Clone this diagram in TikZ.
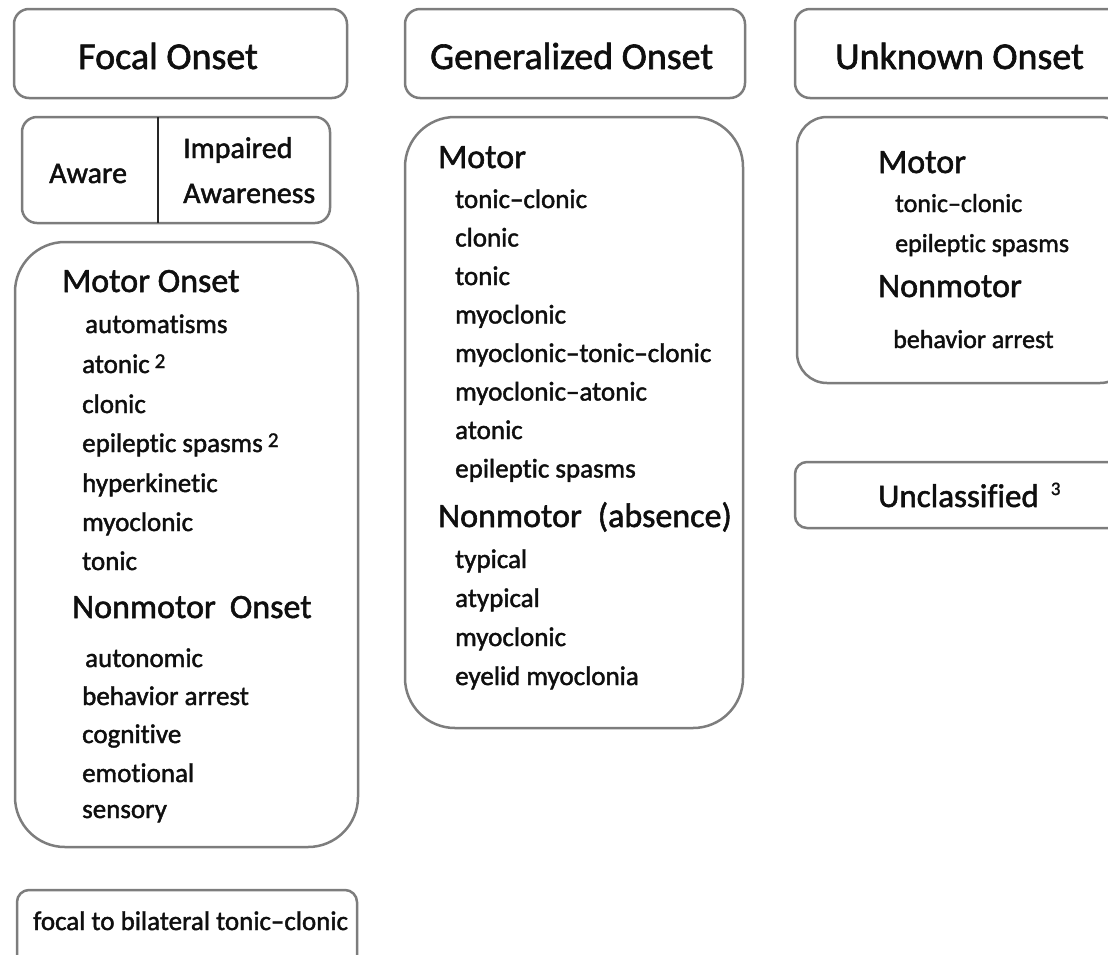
\documentclass[tikz,border=0pt]{standalone}
\usepackage{fontspec}
\setmainfont{Carlito}[Ligatures={TeX,NoCommon}, FakeBold=1.6]
\definecolor{boxgray}{RGB}{125,125,125}
\definecolor{txt}{RGB}{15,15,15}
\tikzset{
  box/.style={draw=boxgray, line width=2.5pt},
  divider/.style={draw=black!85, line width=2.5pt},
  title/.style={anchor=base west, inner sep=0pt, font=\fontsize{38}{40}\selectfont, text=txt},
  head/.style={anchor=base west, inner sep=0pt, font=\fontsize{34}{36}\selectfont, text=txt},
  aw/.style={anchor=base west, inner sep=0pt, font=\fontsize{30}{32}\selectfont, text=txt},
  item/.style={anchor=base west, inner sep=0pt, font=\fontsize{27}{29}\selectfont, text=txt},
  uitem/.style={anchor=base west, inner sep=0pt, font=\fontsize{26}{28}\selectfont, text=txt},
}
\begin{document}
\begin{tikzpicture}[x=1pt,y=-1pt]
\useasboundingbox (0,0) rectangle (1108,954);
\clip (0,0) rectangle (1108,954);
% title boxes
\draw[box, rounded corners=15] (14,9) rectangle (347,98);
\draw[box, rounded corners=15] (405,9) rectangle (745,98);
\draw[box, rounded corners=15] (795,9) rectangle (1125,98);
\node[title] (tfocal) at (78,69) {Focal Onset};
\node[title] (tgen) at (430,69) {Generalized Onset};
\node[title] (tunk) at (835,69) {Unknown Onset};
% aware box
\draw[box, rounded corners=15] (22,117) rectangle (330,223);
\draw[divider] (158,117) -- (158,223);
\node[aw] (aware) at (49,183) {Aware};
\node[aw] (imp1) at (183,158) {Impaired};
\node[aw] (imp2) at (183,203) {Awareness};
% focal content
\draw[box, rounded corners=50] (15,242) rectangle (358,847);
\node[head] (fmotor) at (62,292) {Motor Onset};
\node[item] (f1) at (85,333) {automatisms};
\node[item] (f2) at (82,373) {atonic\hspace{5pt}{\fontsize{21}{21}\selectfont\raisebox{5pt}{2}}};
\node[item] (f3) at (82,413) {clonic};
\node[item] (f4) at (82,452) {epileptic spasms\hspace{5pt}{\fontsize{21}{21}\selectfont\raisebox{5pt}{2}}};
\node[item] (f5) at (82,492) {hyperkinetic};
\node[item] (f6) at (82,531) {myoclonic};
\node[item] (f7) at (82,570) {tonic};
\node[head] (fnon) at (72,618) {Nonmotor\hspace{14pt}Onset};
\node[item] (f8) at (85,667) {autonomic};
\node[item] (f9) at (82,705) {behavior arrest};
\node[item] (f10) at (82,743) {cognitive};
\node[item] (f11) at (82,782) {emotional};
\node[item] (f12) at (82,818) {sensory};
% bilateral
\draw[box, rounded corners=12] (17,890) rectangle (357,990);
\node[item] (bil) at (33,930) {focal to bilateral tonic--clonic};
% generalized content
\draw[box, rounded corners=50] (405,117) rectangle (743,728);
\node[head] (gmotor) at (438,168) {Motor};
\node[item] (g1) at (455,208) {tonic--clonic};
\node[item] (g2) at (455,246.5) {clonic};
\node[item] (g3) at (455,285) {tonic};
\node[item] (g4) at (455,323.5) {myoclonic};
\node[item] (g5) at (455,362) {myoclonic--tonic--clonic};
\node[item] (g6) at (455,400.5) {myoclonic--atonic};
\node[item] (g7) at (455,439) {atonic};
\node[item] (g8) at (455,477.5) {epileptic spasms};
\node[head] (gnon) at (438,527) {Nonmotor\hspace{16pt}(absence)};
\node[item] (g9) at (455,568) {typical};
\node[item] (g10) at (455,607) {atypical};
\node[item] (g11) at (455,646) {myoclonic};
\node[item] (g12) at (455,685) {eyelid myoclonia};
% unknown content
\draw[box, rounded corners=30] (797,117) rectangle (1130,383);
\node[head] (umotor) at (878,173) {Motor};
\node[uitem] (u1) at (895,212) {tonic--clonic};
\node[uitem] (u2) at (895,252) {epileptic spasms};
\node[head] (unon) at (878,297) {Nonmotor};
\node[uitem] (u3) at (893,348) {behavior arrest};
% unclassified
\draw[box, rounded corners=12] (795,462) rectangle (1125,528);
\node[anchor=base west, inner sep=0pt, font=\fontsize{33}{35}\selectfont, text=txt] (uncl) at (878,507) {Unclassified\hspace{12pt}{\fontsize{19}{19}\selectfont\raisebox{12pt}{3}}};
\end{tikzpicture}
\end{document}
